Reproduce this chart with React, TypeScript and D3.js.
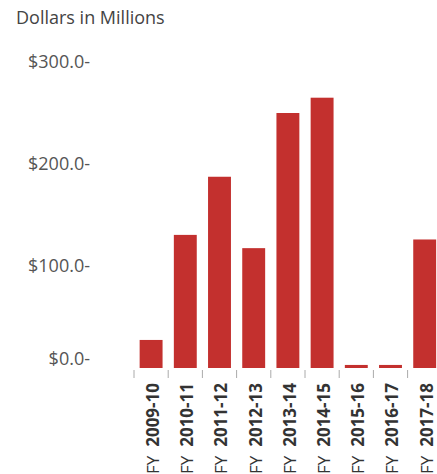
import { useEffect, useRef } from "react";
import * as d3 from "d3";

const years = ["2009-10", "2010-11", "2011-12", "2012-13", "2013-14", "2014-15", "2015-16", "2016-17", "2017-18"];
const dollars = [27.5, 130.5, 187.5, 117.5, 250, 265, 3, 3, 126];
const yTicks = [0, 100, 200, 300];

export default function App() {
  const svgRef = useRef<SVGSVGElement | null>(null);

  useEffect(() => {
    const svg = d3.select(svgRef.current);
    const width = 437;
    const height = 474;
    svg.selectAll("*").remove();
    svg.attr("width", width).attr("height", height);

    const font = "'Open Sans', Lato, sans-serif";

    const x = d3.scaleBand()
      .domain(years)
      .range([134, 134 + 9 * 34.2])
      .paddingInner(0.33)
      .paddingOuter(0.165);

    const y = d3.scaleLinear().domain([0, 300]).range([368, 62]);

    svg.append("text")
      .attr("x", 16)
      .attr("y", 24)
      .attr("font-family", font)
      .attr("font-size", 18)
      .attr("fill", "#444")
      .text("Dollars in Millions");

    const yAxis = svg.append("g")
      .attr("transform", "translate(90,0)")
      .call(d3.axisLeft(y).tickValues(yTicks).tickSize(0).tickPadding(0)
        .tickFormat((d) => `$${(+d).toFixed(1)}-`));
    yAxis.select(".domain").remove();
    yAxis.selectAll("text")
      .attr("font-family", font)
      .attr("font-size", 18)
      .attr("fill", "#555")
      .attr("dy", (d) => (d === 0 ? "-0.2em" : "0.32em"));

    svg.append("g")
      .selectAll("rect")
      .data(dollars)
      .join("rect")
      .attr("x", (_, i) => x(years[i])!)
      .attr("y", (d) => y(d))
      .attr("width", x.bandwidth())
      .attr("height", (d) => y(0) - y(d))
      .attr("fill", "#c3302e");

    const gap = (x.step() - x.bandwidth()) / 2;
    svg.append("g")
      .selectAll("line")
      .data(years)
      .join("line")
      .attr("x1", (d) => x(d)! - gap)
      .attr("x2", (d) => x(d)! - gap)
      .attr("y1", 370)
      .attr("y2", 378)
      .attr("stroke", "#aaa")
      .attr("stroke-width", 1);

    const labels = svg.append("g")
      .selectAll("text")
      .data(years)
      .join("text")
      .attr("transform", (d) => `translate(${x(d)! + x.bandwidth() / 2 + 2},383) rotate(-90)`)
      .attr("text-anchor", "end")
      .attr("dy", "0.35em")
      .attr("font-family", font)
      .attr("font-size", 17)
      .attr("fill", "#333");
    labels.append("tspan").attr("font-weight", "normal").text("FY");
    labels.append("tspan").attr("font-weight", "bold").attr("dx", 9).text((d) => d);
  }, []);

  return (
    <div style={{ position: "absolute", left: 0, top: 0 }}>
      <svg ref={svgRef} style={{ display: "block", background: "#fff" }} />
    </div>
  );
}
